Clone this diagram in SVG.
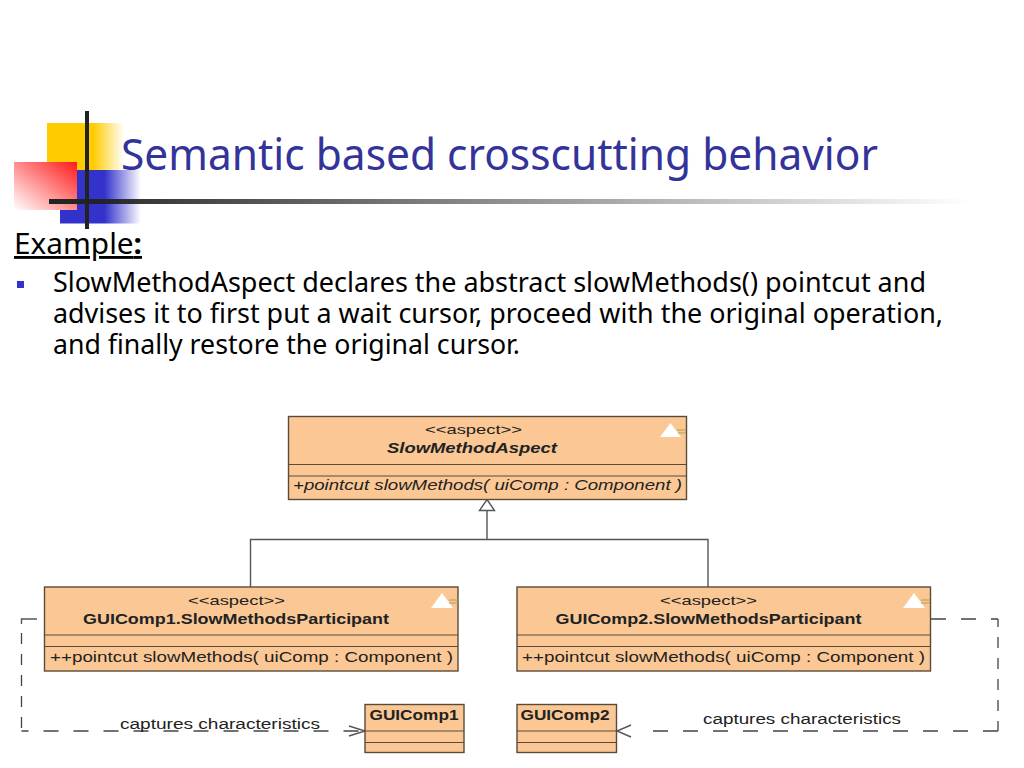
<svg xmlns="http://www.w3.org/2000/svg" width="1024" height="768" viewBox="0 0 1024 768">
<style>
.t{font-family:"Noto Sans","Open Sans","DejaVu Sans",sans-serif;fill:#000}
.u{font-family:"Liberation Sans",Arial,sans-serif;fill:#222}
.box{fill:#fbc895;stroke:#5a4a3a;stroke-width:1.4}
.sep{stroke:#5a4a3a;stroke-width:1.1;fill:none}
.con{stroke:#555;stroke-width:1.4;fill:none}
.dh{stroke:#444;stroke-width:1.3;fill:none;stroke-dasharray:15 15}
.dv{stroke:#444;stroke-width:1.3;fill:none;stroke-dasharray:11 10}
.ico{fill:#fff}
.icl{stroke:#b0a050;stroke-width:1.2}
</style>
<defs>
<linearGradient id="y" x1="0" x2="1" y1="0" y2="0"><stop offset="0.6" stop-color="#ffcc00"/><stop offset="1" stop-color="#ffffff"/></linearGradient>
<linearGradient id="b" x1="0" x2="1" y1="0" y2="0"><stop offset="0.55" stop-color="#3333cc"/><stop offset="1" stop-color="#ffffff"/></linearGradient>
<linearGradient id="r" x1="1" x2="0" y1="0" y2="1"><stop offset="0" stop-color="#ff1a1a"/><stop offset="1" stop-color="#ffffff"/></linearGradient>
<linearGradient id="k" x1="0" x2="1" y1="0" y2="0"><stop offset="0" stop-color="#222"/><stop offset="1" stop-color="#222" stop-opacity="0"/></linearGradient>
</defs>
<rect width="1024" height="768" fill="#fff"/>
<g id="logo">
<rect x="47" y="123" width="77" height="48" fill="url(#y)"/>
<rect x="60" y="170" width="81" height="53.500" fill="url(#b)"/>
<rect x="14" y="162" width="63" height="48" fill="url(#r)"/>
<rect x="49" y="199" width="921" height="5" fill="url(#k)"/>
<rect x="85" y="111" width="4" height="118" fill="#222"/>
</g>
<text class="t" x="121" y="170" font-size="44.500" textLength="757" lengthAdjust="spacingAndGlyphs" style="fill:#333399">Semantic based crosscutting behavior</text>
<g id="body">
<text class="t" x="14" y="254" font-size="28.500" text-decoration="underline" textLength="128" lengthAdjust="spacingAndGlyphs">Example<tspan font-weight="bold">:</tspan></text>
<rect x="17" y="281" width="7" height="7" fill="#3333cc"/>
<text class="t" x="53" y="292" font-size="26.500" textLength="873" lengthAdjust="spacingAndGlyphs">SlowMethodAspect declares the abstract slowMethods() pointcut and</text>
<text class="t" x="53" y="323" font-size="26.500" textLength="890" lengthAdjust="spacingAndGlyphs">advises it to first put a wait cursor, proceed with the original operation,</text>
<text class="t" x="53" y="354" font-size="26.500" textLength="467" lengthAdjust="spacingAndGlyphs">and finally restore the original cursor.</text>
</g>
<g id="connectors">
<path class="con" d="M250.500 587V539.500H708V587M487 539.500V510"/>
<path d="M487 499.500L494.500 510.500H479.500Z" fill="#fff" stroke="#555" stroke-width="1.400"/>
<path class="con" d="M37 619H21.500V624" stroke="#444" stroke-width="1.300"/>
<path class="dv" d="M21.500 633V731"/>
<path class="dh" d="M21.500 731H365" stroke-dashoffset="8"/>
<path class="con" d="M349 726L365 731L349 736" stroke-width="1.200"/>
<path class="dh" d="M931 619H998" stroke-dasharray="14 13"/>
<path class="dv" d="M998 619V731" stroke-dashoffset="-18"/>
<path class="dh" d="M998 731H647"/>
<path class="con" d="M631 725L617 731L631 737" stroke-width="1.200"/>
<text class="u" x="120" y="729" font-size="14" textLength="200" lengthAdjust="spacingAndGlyphs">captures characteristics</text>
<text class="u" x="703" y="724" font-size="14" textLength="198" lengthAdjust="spacingAndGlyphs">captures characteristics</text>
</g>
<g id="SlowMethodAspect">
<rect class="box" x="288.500" y="416.500" width="398" height="83"/>
<path class="sep" d="M288.500 464.500H686.500M288.500 476H686.500"/>
<path class="ico" d="M670.500 423L681 437H660Z"/>
<path class="icl" d="M677 430H686M678 433H686"/>
<text class="u" x="425" y="434" font-size="13" textLength="97" lengthAdjust="spacingAndGlyphs">&lt;&lt;aspect&gt;&gt;</text>
<text class="u" x="387" y="453" font-size="14" font-weight="bold" font-style="italic" textLength="170" lengthAdjust="spacingAndGlyphs">SlowMethodAspect</text>
<text class="u" x="293" y="490" font-size="14.500" font-style="italic" textLength="389" lengthAdjust="spacingAndGlyphs">+pointcut slowMethods( uiComp : Component )</text>
</g>
<g id="GUIComp1Participant">
<rect class="box" x="44.500" y="587" width="413.500" height="84"/>
<path class="sep" d="M44.500 635H458M44.500 646.500H458"/>
<path class="ico" d="M442 593L453 608H431Z"/>
<path class="icl" d="M449 600H458M449 603H458"/>
<text class="u" x="188" y="605" font-size="13" textLength="97" lengthAdjust="spacingAndGlyphs">&lt;&lt;aspect&gt;&gt;</text>
<text class="u" x="83" y="624" font-size="14" font-weight="bold" textLength="306" lengthAdjust="spacingAndGlyphs">GUIComp1.SlowMethodsParticipant</text>
<text class="u" x="50" y="662" font-size="14.500" textLength="403" lengthAdjust="spacingAndGlyphs">++pointcut slowMethods( uiComp : Component )</text>
</g>
<g id="GUIComp2Participant">
<rect class="box" x="517" y="587" width="413.500" height="84"/>
<path class="sep" d="M517 635H930.500M517 646.500H930.500"/>
<path class="ico" d="M914 593L925 608H903Z"/>
<path class="icl" d="M921 600H930M921 603H930"/>
<text class="u" x="660" y="605" font-size="13" textLength="97" lengthAdjust="spacingAndGlyphs">&lt;&lt;aspect&gt;&gt;</text>
<text class="u" x="555.500" y="624" font-size="14" font-weight="bold" textLength="306" lengthAdjust="spacingAndGlyphs">GUIComp2.SlowMethodsParticipant</text>
<text class="u" x="522" y="662" font-size="14.500" textLength="403" lengthAdjust="spacingAndGlyphs">++pointcut slowMethods( uiComp : Component )</text>
</g>
<g id="GUIComp1">
<rect class="box" x="365" y="704.500" width="99" height="48"/>
<path class="sep" d="M365 731H464M365 742.500H464"/>
<text class="u" x="369.500" y="720" font-size="14" font-weight="bold" textLength="89" lengthAdjust="spacingAndGlyphs">GUIComp1</text>
</g>
<g id="GUIComp2">
<rect class="box" x="517" y="704.500" width="99.500" height="48"/>
<path class="sep" d="M517 731H616.500M517 742.500H616.500"/>
<text class="u" x="520.500" y="720" font-size="14" font-weight="bold" textLength="89" lengthAdjust="spacingAndGlyphs">GUIComp2</text>
</g>
</svg>
